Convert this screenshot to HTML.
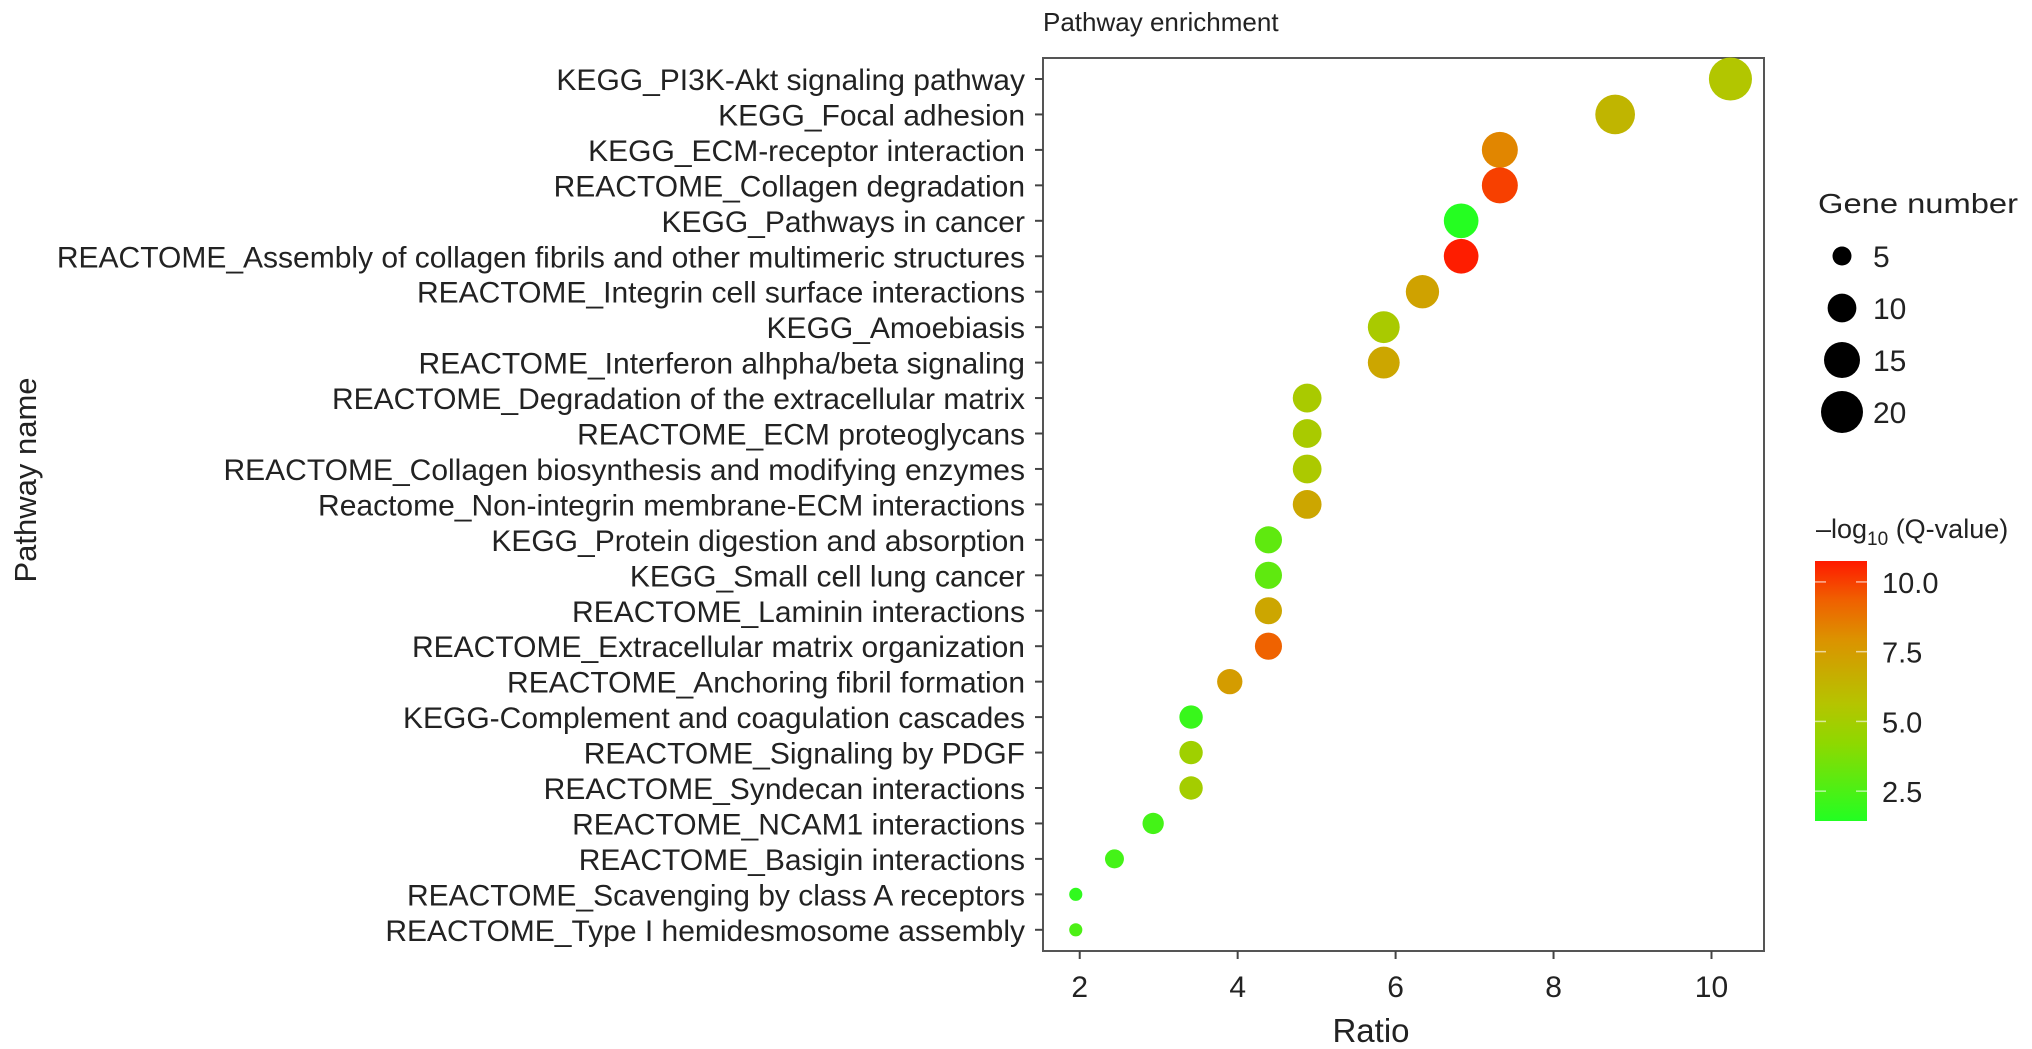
<!DOCTYPE html>
<html><head><meta charset="utf-8">
<style>
html,body{margin:0;padding:0;background:#fff;}
svg{display:block;font-family:"Liberation Sans",Arial,sans-serif;}
</style></head>
<body>
<svg id="chart" width="2032" height="1049" viewBox="0 0 2032 1049" xmlns="http://www.w3.org/2000/svg">
<defs>
<linearGradient id="cbar" x1="0" y1="1" x2="0" y2="0">
<stop offset="0" stop-color="#22ff22"/>
<stop offset="0.3" stop-color="#8fd800"/>
<stop offset="0.45" stop-color="#b5c400"/>
<stop offset="0.7" stop-color="#dc9200"/>
<stop offset="0.85" stop-color="#f06000"/>
<stop offset="1" stop-color="#ff1a00"/>
</linearGradient>
</defs>
<text x="1043" y="31" font-size="26" fill="#222">Pathway enrichment</text>
<text transform="translate(36,480) rotate(-90)" text-anchor="middle" font-size="31" fill="#222">Pathway name</text>
<text x="1371" y="1042" text-anchor="middle" font-size="33" fill="#222">Ratio</text>
<g id="plot"></g>
<g id="legend"></g>
</svg>
<script>
const pathways = ["KEGG_PI3K-Akt signaling pathway","KEGG_Focal adhesion","KEGG_ECM-receptor interaction","REACTOME_Collagen degradation","KEGG_Pathways in cancer","REACTOME_Assembly of collagen fibrils and other multimeric structures","REACTOME_Integrin cell surface interactions","KEGG_Amoebiasis","REACTOME_Interferon alhpha/beta signaling","REACTOME_Degradation of the extracellular matrix","REACTOME_ECM proteoglycans","REACTOME_Collagen biosynthesis and modifying enzymes","Reactome_Non-integrin membrane-ECM interactions","KEGG_Protein digestion and absorption","KEGG_Small cell lung cancer","REACTOME_Laminin interactions","REACTOME_Extracellular matrix organization","REACTOME_Anchoring fibril formation","KEGG-Complement and coagulation cascades","REACTOME_Signaling by PDGF","REACTOME_Syndecan interactions","REACTOME_NCAM1 interactions","REACTOME_Basigin interactions","REACTOME_Scavenging by class A receptors","REACTOME_Type I hemidesmosome assembly"];
const ratios = [10.24,8.78,7.32,7.32,6.83,6.83,6.34,5.85,5.85,4.88,4.88,4.88,4.88,4.39,4.39,4.39,4.39,3.90,3.41,3.41,3.41,2.93,2.44,1.95,1.95];
const geneCounts = [21,18,15,15,14,14,13,12,12,10,10,10,10,9,9,9,9,8,7,7,7,6,5,3,3];
const qValues = [5.5,6.3,8.3,10,1.5,10.7,7.2,5.2,7.0,5.2,5.2,5.3,7.0,3.0,3.0,7.0,9.3,7.5,2.0,4.8,5.0,2.3,2.3,1.8,2.5];
const xTicks = [2,4,6,8,10];
const sizeBreaks = [5,10,15,20];
const colorTicks = [10.0,7.5,5.0,2.5];
const colorTickLabels = ["10.0","7.5","5.0","2.5"];

const NS = "http://www.w3.org/2000/svg";
const L=1043,R=1764,T=58,B=951;
const X0=1.535,X1=10.665;
function xs(v){return L+(v-X0)/(X1-X0)*(R-L);}
function ys(i){return 79+i*35.45;}
function rs(n){return Math.sqrt(Math.max(16,23.4*n-27));}
const QMIN=1.43,QMAX=10.75;
const stops=[[0,[34,255,34]],[0.3,[143,216,0]],[0.45,[181,196,0]],[0.7,[220,146,0]],[0.85,[240,96,0]],[1,[255,26,0]]];
function col(q){let t=(q-QMIN)/(QMAX-QMIN);t=Math.max(0,Math.min(1,t));
 for(let k=1;k<stops.length;k++){if(t<=stops[k][0]){const a=stops[k-1],b=stops[k];const f=(t-a[0])/(b[0]-a[0]);
 const c=a[1].map((v,j)=>Math.round(v+(b[1][j]-v)*f));return "rgb("+c.join(",")+")";}}return "rgb(255,26,0)";}
function mk(tag,attrs,parent){const e=document.createElementNS(NS,tag);for(const k in attrs)e.setAttribute(k,attrs[k]);parent.appendChild(e);return e;}

const plot=document.getElementById("plot");
const frame=mk("rect",{x:L,y:T,width:R-L,height:B-T,fill:"none",stroke:"#555","stroke-width":2},plot);


pathways.forEach((p,i)=>{
 const y=ys(i);
 const tk=mk("line",{x1:L-8,x2:L,y1:y,y2:y,stroke:"#444","stroke-width":2},plot);
 
 
 const t=mk("text",{x:L-18,y:y+11,"text-anchor":"end","font-size":30,fill:"#222"},plot);
 t.textContent=p;
 
 
});
xTicks.forEach(v=>{
 const x=xs(v);
 const tk=mk("line",{x1:x,x2:x,y1:B,y2:B+8,stroke:"#444","stroke-width":2},plot);
 
 
 const t=mk("text",{x:x,y:B+46,"text-anchor":"middle","font-size":30,fill:"#222"},plot);
 t.textContent=String(v);
 
 
});
pathways.forEach((p,i)=>{
 const c=mk("circle",{cx:xs(ratios[i]),cy:ys(i),r:rs(geneCounts[i]),fill:col(qValues[i])},plot);
 
 
});

const lg=document.getElementById("legend");
const gt=mk("text",{x:1818,y:213,"font-size":28,fill:"#222",textLength:200,lengthAdjust:"spacingAndGlyphs"},lg);
gt.textContent="Gene number";


const sy=[256,308,360,412];
sizeBreaks.forEach((n,k)=>{
 const c=mk("circle",{cx:1842,cy:sy[k],r:rs(n),fill:"#000"},lg);
 
 
 const t=mk("text",{x:1873,y:sy[k]+11,"font-size":30,fill:"#222"},lg);
 t.textContent=String(n);
 
 
});
const ct=mk("text",{x:1816,y:538,"font-size":27,fill:"#222"},lg);
ct.innerHTML='\u2013log<tspan font-size="19" dy="7">10</tspan><tspan dy="-7"> (Q-value)</tspan>';


const CB_T=561,CB_B=821;
function cy(v){return CB_B-(v-QMIN)/(QMAX-QMIN)*(CB_B-CB_T);}
const bar=mk("rect",{x:1815,y:CB_T,width:52,height:CB_B-CB_T,fill:"url(#cbar)"},lg);


colorTicks.forEach((v,k)=>{
 const y=cy(v);
 const a=mk("line",{x1:1815,x2:1826,y1:y,y2:y,stroke:"#fff","stroke-opacity":0.6,"stroke-width":1.5},lg);
 
 
 const b=mk("line",{x1:1856,x2:1867,y1:y,y2:y,stroke:"#fff","stroke-opacity":0.6,"stroke-width":1.5},lg);
 
 
 const t=mk("text",{x:1882,y:y+11,"font-size":29,fill:"#222"},lg);
 t.textContent=colorTickLabels[k];
 
 
});
</script>
</body></html>
